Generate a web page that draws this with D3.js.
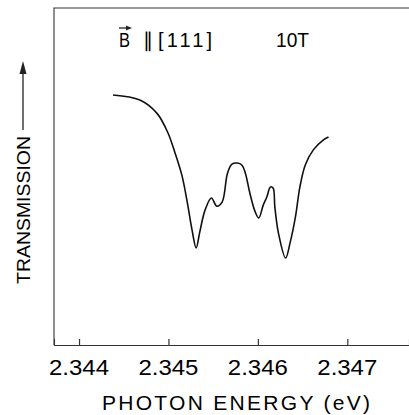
<!DOCTYPE html>
<html>
<head>
<meta charset="utf-8">
<script src="https://cdn.jsdelivr.net/npm/d3@7"></script>
<style>
  body { margin: 0; background: #fff; }
  svg { display: block; font-family: "Liberation Sans", Arial, sans-serif; }
</style>
</head>
<body>
<svg width="409" height="415"></svg>
<script>
// photon energy (eV)
let energy = [2.34438, 2.34468, 2.34487, 2.34499, 2.34507, 2.34515, 2.34521, 2.34526, 2.34531,
              2.34535, 2.34541, 2.34548, 2.34554, 2.34560, 2.34566, 2.34571, 2.34577, 2.34582,
              2.34586, 2.34591, 2.34597, 2.34601, 2.34606, 2.34610, 2.34614, 2.34617, 2.34619,
              2.34623, 2.34631, 2.34636, 2.34642, 2.34647, 2.34653, 2.34662, 2.34673, 2.34679];
// transmission, arbitrary units (0 = axis)
let transmission = [74.2, 72.7, 68.8, 63.2, 57.3, 50.4, 42.4, 34.7, 28.8,
                    33.5, 40.1, 43.6, 41.2, 42.4, 51.0, 53.7, 54.0, 53.4,
                    51.0, 45.1, 39.5, 37.7, 41.5, 43.9, 46.9, 46.6, 40.9,
                    33.2, 25.8, 30.3, 38.0, 46.9, 53.4, 57.9, 60.8, 61.7];
let tickVals = [2.344, 2.345, 2.346, 2.347];

let frame = { left: 54, right: 409, top: 8, bottom: 345 };

let svg = d3.select('svg');

let xScale = d3.scaleLinear()
               .domain([2.34372, 2.34769])
               .range([frame.left, frame.right]);
let yScale = d3.scaleLinear()
               .domain([0, 100])
               .range([frame.bottom, frame.top]);

// frame: top and left lines
svg.append('path')
   .attr('d', `M${frame.right},${frame.top}H${frame.left}V${frame.bottom}`)
   .attr('fill', 'none')
   .attr('stroke', '#333')
   .attr('stroke-width', 1.1);

// x axis, ticks pointing inward
let xAxis = d3.axisTop(xScale)
              .tickValues(tickVals)
              .tickSize(6)
              .tickFormat('');
let gx = svg.append('g')
            .attr('transform', `translate(0,${frame.bottom})`)
            .call(xAxis);
gx.select('.domain').attr('stroke', '#333').attr('stroke-width', 1.1);
gx.selectAll('.tick line').attr('stroke', '#333').attr('stroke-width', 1.2);

// tick labels
svg.selectAll('.xlab')
   .data(tickVals)
   .enter()
   .append('text')
   .attr('class', 'xlab')
   .attr('x', d => xScale(d) - 30)
   .attr('y', 375)
   .attr('textLength', 60)
   .attr('lengthAdjust', 'spacingAndGlyphs')
   .style('font-size', '22px')
   .text(d => d3.format('.3f')(d));

// x title
svg.append('text')
   .attr('x', 102)
   .attr('y', 410)
   .attr('textLength', 268)
   .attr('lengthAdjust', 'spacing')
   .style('font-size', '21px')
   .text('PHOTON ENERGY (eV)');

// y title with arrow
svg.append('text')
   .attr('transform', 'translate(30,284) rotate(-90)')
   .attr('textLength', 148)
   .attr('lengthAdjust', 'spacingAndGlyphs')
   .style('font-size', '18px')
   .text('TRANSMISSION');
svg.append('line')
   .attr('x1', 23).attr('x2', 23)
   .attr('y1', 130).attr('y2', 72)
   .attr('stroke', '#222')
   .attr('stroke-width', 1.3);
svg.append('path')
   .attr('d', 'M23,61L19.5,74L26.5,74Z')
   .attr('fill', '#222');

// annotation
svg.append('text')
   .attr('x', 119)
   .attr('y', 47)
   .attr('textLength', 11)
   .attr('lengthAdjust', 'spacingAndGlyphs')
   .style('font-size', '20px')
   .text('B');
svg.append('path')
   .attr('d', 'M119,28H128')
   .attr('stroke', '#222')
   .attr('stroke-width', 1.3);
svg.append('path')
   .attr('d', 'M132,28L126,25.5L126,30.5Z')
   .attr('fill', '#222');
svg.append('text')
   .attr('x', 143)
   .attr('y', 47)
   .style('font-size', '20px')
   .text('\u2225');
svg.append('text')
   .attr('x', 158)
   .attr('y', 47)
   .attr('textLength', 54)
   .attr('lengthAdjust', 'spacing')
   .style('font-size', '20px')
   .text('[111]');
svg.append('text')
   .attr('x', 276)
   .attr('y', 47)
   .attr('textLength', 33)
   .attr('lengthAdjust', 'spacingAndGlyphs')
   .style('font-size', '20px')
   .text('10T');

// trace
let points = energy.map((e, i) => [e, transmission[i]]);
let line = d3.line()
             .x(d => xScale(d[0]))
             .y(d => yScale(d[1]))
             .curve(d3.curveCatmullRom.alpha(0.5));
svg.append('path')
   .datum(points)
   .attr('d', line)
   .attr('fill', 'none')
   .attr('stroke', '#111')
   .attr('stroke-width', 1.6);
</script>
</body>
</html>
